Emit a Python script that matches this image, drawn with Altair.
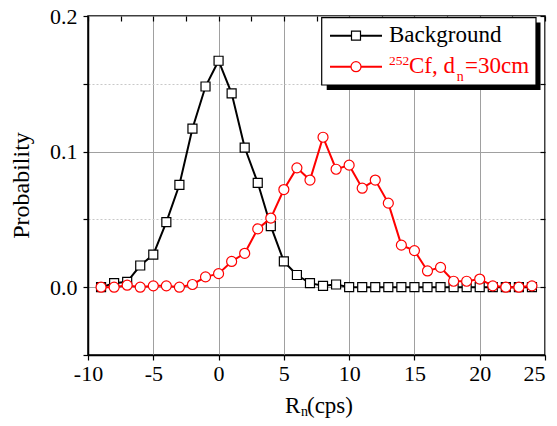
import altair as alt
import pandas as pd

# ---- data ----
rn = list(range(-9, 25))
background = [0.000, 0.003, 0.004, 0.016, 0.024, 0.048, 0.0755, 0.117, 0.148, 0.167,
              0.143, 0.103, 0.077, 0.045, 0.019, 0.009, 0.003, 0.001, 0.002,
              0, 0, 0, 0, 0, 0, 0, 0, 0, 0, 0, 0, 0, 0, 0]
cf252 = [0.000, 0.000, 0.0015, 0.000, 0.001, 0.001, 0.000, 0.002, 0.0076, 0.010,
         0.019, 0.025, 0.043, 0.051, 0.072, 0.088, 0.079, 0.1106, 0.087, 0.090,
         0.073, 0.079, 0.062, 0.031, 0.027, 0.012, 0.0146, 0.0044, 0.0044, 0.006,
         0.001, 0.000, 0.000, 0.001]
x_ticks = [-10 + 2.5 * i for i in range(15)]
y_ticks = [-0.05, 0.0, 0.05, 0.1, 0.15, 0.2]

FONT = "Liberation Serif, Times New Roman, serif"
W, H = 457, 339

df_bg = pd.DataFrame({"x": rn, "y": background})
df_cf = pd.DataFrame({"x": rn, "y": cf252})
one = pd.DataFrame({"a": [0]})

xscale = alt.Scale(domain=[-10, 25], nice=False, zero=False)
yscale = alt.Scale(domain=[-0.05, 0.2], nice=False, zero=False)

grid_dash_x = {"condition": {"test": "datum.value % 5 !== 0", "value": [2, 2]}, "value": []}
grid_col_x = {"condition": {"test": "datum.value % 5 !== 0", "value": "#c8c8c8"}, "value": "#a0a0a0"}
grid_dash_y = {"condition": {"test": "round(datum.value*20) % 2 !== 0", "value": [2, 2]}, "value": []}
grid_col_y = {"condition": {"test": "round(datum.value*20) % 2 !== 0", "value": "#c8c8c8"}, "value": "#a0a0a0"}

xaxis = alt.Axis(values=x_ticks, title=None, grid=True, gridDash=grid_dash_x, gridColor=grid_col_x,
                 gridWidth=1, tickSize=5, tickColor="black", tickWidth=1.2,
                 domainColor="black", domainWidth=1.5,
                 labelExpr="datum.value % 5 === 0 ? toString(datum.value) : ''",
                 labelAlign={"condition": {"test": "datum.value >= 25", "value": "right"}, "value": "center"},
                 labelFont=FONT, labelFontSize=22, labelColor="black", labelPadding=3,
                 labelFlush=False, labelOverlap=False)
yaxis = alt.Axis(values=y_ticks, title=None, grid=True, gridDash=grid_dash_y, gridColor=grid_col_y,
                 gridWidth=1, tickSize=5, tickColor="black", tickWidth=1.2,
                 domainColor="black", domainWidth=1.5,
                 labelExpr="round(datum.value*20) % 2 === 0 ? format(datum.value, '.1f') : ''",
                 labelFont=FONT, labelFontSize=22, labelColor="black", labelPadding=6,
                 labelFlush=False, labelOverlap=False)

enc_x = alt.X("x:Q", scale=xscale, axis=xaxis)
enc_y = alt.Y("y:Q", scale=yscale, axis=yaxis)

bg_line = alt.Chart(df_bg).mark_line(color="black", strokeWidth=2).encode(x=enc_x, y=enc_y)
bg_pts = alt.Chart(df_bg).mark_point(shape="square", size=81, filled=True, fill="white",
                                     stroke="black", strokeWidth=1.2, opacity=1).encode(
    x=alt.X("x:Q", scale=xscale), y=alt.Y("y:Q", scale=yscale))
cf_line = alt.Chart(df_cf).mark_line(color="red", strokeWidth=2).encode(
    x=alt.X("x:Q", scale=xscale), y=alt.Y("y:Q", scale=yscale))
cf_pts = alt.Chart(df_cf).mark_point(shape="circle", size=100, filled=True, fill="white",
                                     stroke="red", strokeWidth=1.2, opacity=1).encode(
    x=alt.X("x:Q", scale=xscale), y=alt.Y("y:Q", scale=yscale))

data_layer = alt.layer(bg_line, bg_pts, cf_line, cf_pts)

# mirror axes (top / right) with inward ticks
mirror = alt.Chart(df_bg).mark_point(opacity=0).encode(
    x=alt.X("x:Q", scale=xscale, axis=alt.Axis(orient="top", values=x_ticks, labels=False, domain=False,
                                                 grid=False, tickSize=5, offset=-5, title=None,
                                                 tickColor="black", tickWidth=1.2)),
    y=alt.Y("y:Q", scale=yscale, axis=alt.Axis(orient="right", values=y_ticks, labels=False, domain=False,
                                                 grid=False, tickSize=5, offset=-5, title=None,
                                                 tickColor="black", tickWidth=1.2)),
)

def txt(t, x, y, size, color="black", angle=0, align="left", baseline="alphabetic"):
    return alt.Chart(one).mark_text(text=t, font=FONT, fontSize=size, color=color, angle=angle,
                                    align=align, baseline=baseline).encode(
        x=alt.value(x), y=alt.value(y))

# axis titles
titles = [
    txt("Probability", -66, 169.5, 24, angle=270, align="center", baseline="middle"),
    txt("R", 197, 397, 23),
    txt("n", 213, 399.5, 14),
    txt("(cps)", 219, 397, 23),
]

# legend
shadow = alt.Chart(one).mark_rect(color="black").encode(
    x=alt.value(238.7), x2=alt.value(452.5), y=alt.value(6.5), y2=alt.value(74))
box = alt.Chart(one).mark_rect(fill="white", stroke="black", strokeWidth=1.2).encode(
    x=alt.value(233.7), x2=alt.value(448), y=alt.value(1.7), y2=alt.value(69))
leg_bg_line = alt.Chart(one).mark_rule(color="black", strokeWidth=2).encode(
    x=alt.value(242), x2=alt.value(294), y=alt.value(19.7))
leg_bg_pt = alt.Chart(one).mark_point(shape="square", size=81, filled=True, fill="white",
                                      stroke="black", strokeWidth=1.2, opacity=1).encode(
    x=alt.value(268), y=alt.value(19.7))
leg_cf_line = alt.Chart(one).mark_rule(color="red", strokeWidth=2).encode(
    x=alt.value(242), x2=alt.value(294), y=alt.value(50.7))
leg_cf_pt = alt.Chart(one).mark_point(shape="circle", size=100, filled=True, fill="white",
                                      stroke="red", strokeWidth=1.2, opacity=1).encode(
    x=alt.value(268), y=alt.value(50.7))
legend = [
    shadow, box, leg_bg_line, leg_bg_pt, leg_cf_line, leg_cf_pt,
    txt("Background", 301, 25.7, 23),
    txt("252", 301, 49, 13.5, color="red"),
    txt("Cf, d", 321, 57.3, 23, color="red"),
    txt("n", 368.7, 65, 14, color="red"),
    txt("=30cm", 377, 57.3, 23, color="red"),
]

chart = alt.layer(
    data_layer, mirror, *titles, *legend
).resolve_axis(x="independent", y="independent").properties(
    width=W, height=H,
    autosize=alt.AutoSizeParams(type="none"),
    padding={"left": 80, "top": 8, "right": 4, "bottom": 63},
).configure_view(stroke="black", strokeWidth=1.5)

chart.save("out.html", embed_options={"renderer": "svg", "actions": False})
